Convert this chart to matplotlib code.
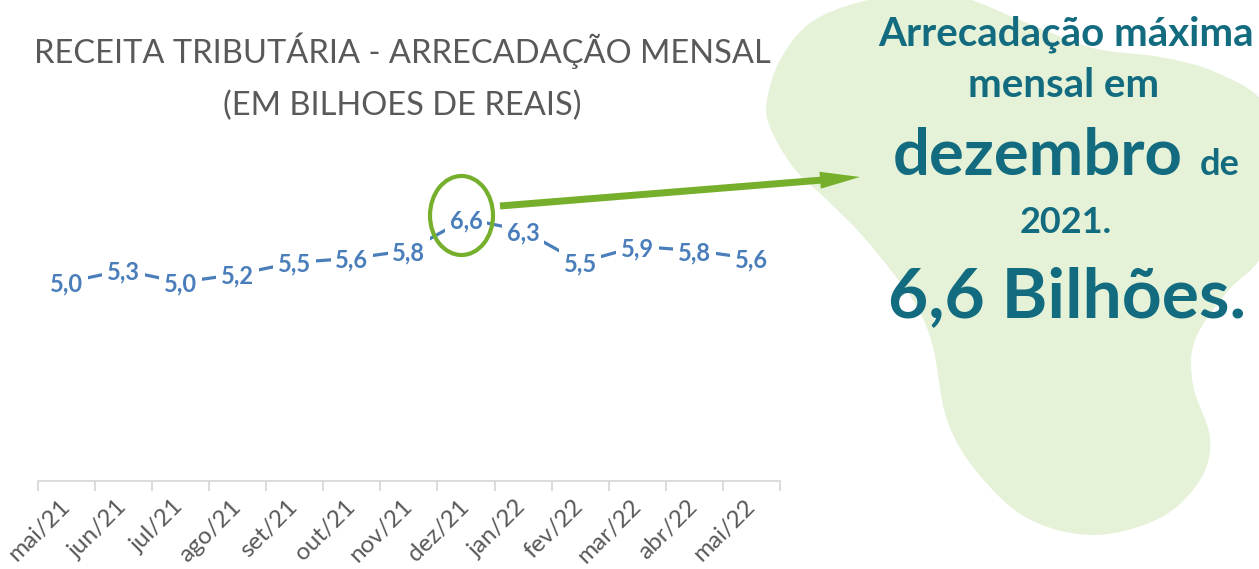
import matplotlib
matplotlib.use("Agg")
import matplotlib.pyplot as plt
from matplotlib.path import Path
from matplotlib.patches import PathPatch, Ellipse, FancyArrow
import numpy as np

# data
months = ["mai/21", "jun/21", "jul/21", "ago/21", "set/21", "out/21", "nov/21",
          "dez/21", "jan/22", "fev/22", "mar/22", "abr/22", "mai/22"]
receita = [5.0, 5.3, 5.0, 5.2, 5.5, 5.6, 5.8, 6.6, 6.3, 5.5, 5.9, 5.8, 5.6]

BLUE = "#4A7EBB"; GREEN = "#76AF2C"; TEAL = "#136B80"; GRAY = "#595959"
BLOB = "#E5F2D8"; AXC = "#D9D9D9"
plt.rcParams["font.family"] = ["Lato", "DejaVu Sans"]

W, H = 1259, 569
fig = plt.figure(figsize=(W / 100, H / 100), dpi=100)

# background blob (pixel coords)
bg = fig.add_axes([0, 0, 1, 1], zorder=0)
bg.set_xlim(0, W); bg.set_ylim(H, 0); bg.axis("off")
pts = np.array([(770, 127), (767, 100), (780, 60), (810, 23), (860, 2), (920, -6), (965, -2),
                (1027, 23), (1093, 48), (1160, 57), (1215, 72), (1265, 105), (1285, 180),
                (1262, 255), (1227, 292), (1195, 340), (1193, 385), (1210, 438), (1200, 480),
                (1160, 518), (1093, 535), (1027, 518), (977, 472), (947, 420), (933, 347),
                (917, 307), (893, 273), (860, 233), (827, 200), (793, 167)], float)
n = len(pts)
verts = [pts[0]]; codes = [Path.MOVETO]
for i in range(n):
    p0, p1, p2, p3 = pts[i - 1], pts[i], pts[(i + 1) % n], pts[(i + 2) % n]
    verts += [p1 + (p2 - p0) / 6, p2 - (p3 - p1) / 6, p2]
    codes += [Path.CURVE4] * 3
bg.add_patch(PathPatch(Path(verts, codes), facecolor=BLOB, edgecolor="none"))

# line chart
ax = fig.add_axes([37.7 / W, 88 / H, (780 - 37.7) / W, 318 / H], zorder=1)
ax.patch.set_alpha(0)
x = np.arange(len(months))
ax.plot(x, receita, color=BLUE, lw=2.3, zorder=2)
for i, v in enumerate(receita):
    ax.text(i, v, f"{v:.1f}".replace(".", ","), ha="center", va="center_baseline",
            color=BLUE, fontsize=17, fontweight="bold", zorder=3,
            bbox=dict(boxstyle="square,pad=0.2", fc="white", ec="none"))
ax.set_xlim(-0.5, len(months) - 0.5); ax.set_ylim(0, 8)
for s in ("top", "right", "left"): ax.spines[s].set_visible(False)
ax.spines["bottom"].set_color(AXC); ax.spines["bottom"].set_linewidth(1.3)
ax.set_yticks([])
ax.set_xticks(x)
ax.set_xticklabels(months, rotation=45, ha="right", va="center", rotation_mode="anchor",
                   fontsize=17.5, color=GRAY)
ax.tick_params(axis="x", which="major", length=0, pad=16)
ax.set_xticks(np.arange(len(months) + 1) - 0.5, minor=True)
ax.tick_params(axis="x", which="minor", length=7, width=1.3, color=AXC)

# overlay: title, highlight, callout text
ov = fig.add_axes([0, 0, 1, 1], zorder=2)
ov.set_xlim(0, W); ov.set_ylim(H, 0); ov.axis("off")
ov.text(402, 63, "RECEITA TRIBUTÁRIA - ARRECADAÇÃO MENSAL", ha="center", va="baseline",
        fontsize=23.5, color=GRAY)
ov.text(402, 115, "(EM BILHOES DE REAIS)", ha="center", va="baseline", fontsize=23.5, color=GRAY)
ov.add_patch(Ellipse((461.5, 215.5), 63, 79, fill=False, ec=GREEN, lw=3))
ov.add_patch(FancyArrow(500, 206, 360, -29, width=7, head_width=17, head_length=40,
                        length_includes_head=True, color=GREEN, lw=0))
ov.text(1066, 45, "Arrecadação máxima", ha="center", va="baseline", fontsize=29,
        fontweight="bold", color=TEAL)
ov.text(1064, 97, "mensal em", ha="center", va="baseline", fontsize=29,
        fontweight="bold", color=TEAL)
ov.text(893, 175, "dezembro", ha="left", va="baseline", fontsize=47,
        fontweight="bold", color=TEAL)
ov.text(1200, 175, "de", ha="left", va="baseline", fontsize=26,
        fontweight="bold", color=TEAL)
ov.text(1066, 233, "2021.", ha="center", va="baseline", fontsize=26,
        fontweight="bold", color=TEAL)
ov.text(1067, 317, "6,6 Bilhões.", ha="center", va="baseline", fontsize=50,
        fontweight="bold", color=TEAL)

fig.savefig("out.png", dpi=100, facecolor="white")
